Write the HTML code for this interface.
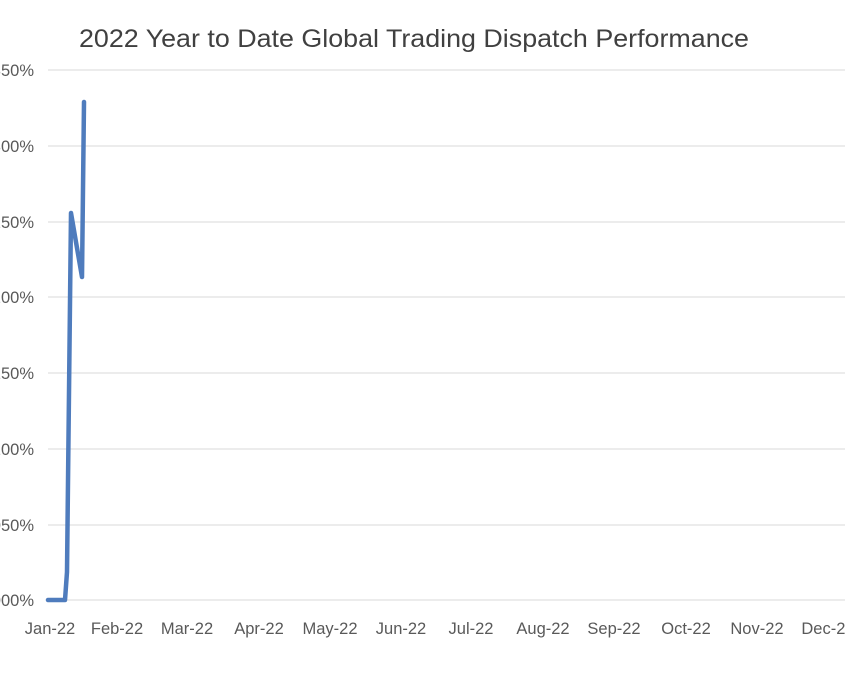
<!DOCTYPE html>
<html><head><style>
html,body{margin:0;padding:0;background:#fff;}
body{width:845px;height:684px;overflow:hidden;position:relative;font-family:"Liberation Sans",sans-serif;}
</style></head><body>
<svg width="845" height="684" xmlns="http://www.w3.org/2000/svg" style="position:absolute;left:0;top:0">
<text x="414" y="47" text-anchor="middle" font-family="Liberation Sans, sans-serif" font-size="25" fill="#404040" textLength="670" lengthAdjust="spacingAndGlyphs">2022 Year to Date Global Trading Dispatch Performance</text>
<g stroke="#d9d9d9" stroke-width="1">
<line x1="48" x2="845" y1="70" y2="70"/>
<line x1="48" x2="845" y1="146" y2="146"/>
<line x1="48" x2="845" y1="222" y2="222"/>
<line x1="48" x2="845" y1="297" y2="297"/>
<line x1="48" x2="845" y1="373" y2="373"/>
<line x1="48" x2="845" y1="449" y2="449"/>
<line x1="48" x2="845" y1="525" y2="525"/>
<line x1="48" x2="845" y1="600" y2="600"/>
</g>
<g font-family="Liberation Sans, sans-serif" font-size="16.5" fill="#595959" text-anchor="end">
<text x="34" y="76">350%</text>
<text x="34" y="152">300%</text>
<text x="34" y="228">250%</text>
<text x="34" y="303">200%</text>
<text x="34" y="379">150%</text>
<text x="34" y="455">100%</text>
<text x="34" y="531">050%</text>
<text x="34" y="606">000%</text>
</g>
<g font-family="Liberation Sans, sans-serif" font-size="16.5" fill="#595959" text-anchor="middle">
<text x="50" y="634">Jan-22</text>
<text x="117" y="634">Feb-22</text>
<text x="187" y="634">Mar-22</text>
<text x="259" y="634">Apr-22</text>
<text x="330" y="634">May-22</text>
<text x="401" y="634">Jun-22</text>
<text x="471" y="634">Jul-22</text>
<text x="543" y="634">Aug-22</text>
<text x="614" y="634">Sep-22</text>
<text x="686" y="634">Oct-22</text>
<text x="757" y="634">Nov-22</text>
<text x="828" y="634">Dec-22</text>
</g>
<polyline points="48,600 65,600 67,572 71,213 82,277 84,102" fill="none" stroke="#4f7cbd" stroke-width="4.5" stroke-linejoin="round" stroke-linecap="round"/>
</svg>
</body></html>
